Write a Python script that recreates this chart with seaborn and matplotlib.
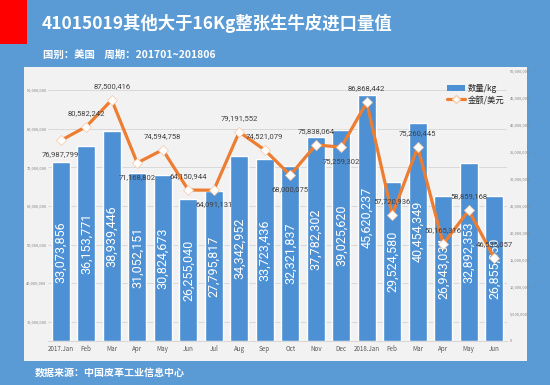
import pandas as pd
import seaborn as sns
import matplotlib.pyplot as plt
from matplotlib.patches import Rectangle, Patch
from matplotlib.lines import Line2D
from matplotlib.ticker import MultipleLocator, FuncFormatter

# data
periods = ['201701', '201702', '201703', '201704', '201705', '201706',
           '201707', '201708', '201709', '201710', '201711', '201712',
           '201801', '201802', '201803', '201804', '201805', '201806']
month_labels = ['2017.Jan', 'Feb', 'Mar', 'Apr', 'May', 'Jun', 'Jul', 'Aug', 'Sep',
                'Oct', 'Nov', 'Dec', '2018.Jan', 'Feb', 'Mar', 'Apr', 'May', 'Jun']
qty_kg = [33073856, 36153771, 38939446, 31052151, 30824673, 26255040,
          27795817, 34342952, 33723436, 32321837, 37782302, 39025620,
          45620237, 29524580, 40454349, 26943034, 32892353, 26855850]
amount_usd = [76987799, 80582242, 87500416, 71168802, 74594758, 64150944,
              64091131, 79191552, 74521079, 68000075, 75838064, 75259302,
              86868442, 57720936, 75260445, 50165316, 58859168, 46535057]
# months whose amount label sits under the point
label_below = ['201701', '201704', '201707', '201710', '201712']

BG = '#5B9BD5'
BAR = '#4E90D4'
ORANGE = '#ED7D31'
PANEL = '#F2F2F2'

df = pd.DataFrame({'period': periods, 'qty': qty_kg, 'amount': amount_usd})

sns.set_style('white')
plt.rcParams['font.family'] = ['Noto Sans CJK SC', 'DejaVu Sans']

fig = plt.figure(figsize=(5.5, 3.85), dpi=100)
fig.patch.set_facecolor(BG)

# red corner block and light panel, kept under the axes
fig.patches.append(Rectangle((0, 1 - 44 / 385), 27 / 550, 44 / 385, transform=fig.transFigure,
                             facecolor='#FF0000', edgecolor='none', zorder=-5))
fig.patches.append(Rectangle((24 / 550, 1 - 361 / 385), 503 / 550, 294 / 385,
                             transform=fig.transFigure, facecolor=PANEL, edgecolor='none',
                             zorder=-5))

fig.text(42 / 550, 1 - 23 / 385, '41015019其他大于16Kg整张生牛皮进口量值', color='white',
         fontsize=12.5, fontweight='bold', va='center', ha='left')
fig.text(43 / 550, 1 - 55 / 385, '国别：美国    周期：201701~201806', color='white',
         fontsize=7.5, fontweight='bold', va='center', ha='left')
fig.text(35 / 550, 1 - 373 / 385, '数据来源：中国皮革工业信息中心', color='white',
         fontsize=7.2, fontweight='bold', va='center', ha='left')

comma = FuncFormatter(lambda v, p: f'{v:,.0f}')

# base axes: amount scale on the left, grid lines
ax_amt = fig.add_axes([48 / 550, 1 - 341 / 385, 459 / 550, 270 / 385])
ax_amt.set_facecolor('none')
ax_amt.set_ylim(25e6, 95e6)
ax_amt.yaxis.set_major_locator(MultipleLocator(10e6))
ax_amt.yaxis.set_major_formatter(comma)
ax_amt.grid(axis='y', color='#D9D9D9', linewidth=0.7)
for s in ax_amt.spines.values():
    s.set_visible(False)
ax_amt.spines['bottom'].set_visible(True)
ax_amt.spines['bottom'].set_color('#D9D9D9')

# bars: quantity on the right axis
ax_qty = ax_amt.twinx()
sns.barplot(data=df, x='period', y='qty', color=BAR, saturation=1, width=0.72, ax=ax_qty)
ax_qty.set_ylim(0, 50e6)
ax_qty.yaxis.set_major_locator(MultipleLocator(5e6))
ax_qty.yaxis.set_major_formatter(comma)
ax_qty.set_ylabel('')
ax_qty.bar_label(ax_qty.containers[0], labels=[f'{v:,}' for v in qty_kg], label_type='center',
                 rotation=90, color='white', fontsize=9, family='Roboto')
for s in ax_qty.spines.values():
    s.set_visible(False)

# line: amount, drawn on top
ax_line = ax_amt.twinx()
sns.pointplot(data=df, x='period', y='amount', color=ORANGE, markers='D', errorbar=None,
              linewidth=2.3, markersize=5, ax=ax_line)
ax_line.set_ylim(25e6, 95e6)
ax_line.set_yticks([])
ax_line.set_ylabel('')
for s in ax_line.spines.values():
    s.set_visible(False)
ln = ax_line.lines[0]
ln.set_markerfacecolor('white')
ln.set_markeredgecolor('#F8CBAD')
ln.set_markeredgewidth(0.6)

for xp, v, per in zip(ln.get_xdata(), amount_usd, periods):
    dy = -10 if per in label_below else 10
    ax_line.annotate(f'{v:,}', (xp, v), xytext=(0, dy), textcoords='offset points',
                     ha='center', va='center', fontsize=5.5, color='#404040', family='Roboto')

# ticks
ax_amt.set_xticks(ax_amt.get_xticks(), labels=month_labels)
ax_amt.set_xlabel('')
ax_amt.tick_params(axis='x', length=0, labelsize=4.5, labelcolor='#595959', pad=3)
ax_amt.tick_params(axis='y', length=0, labelsize=2.8, labelcolor='#7F7F7F', pad=1)
ax_qty.tick_params(axis='y', length=0, labelsize=2.8, labelcolor='#7F7F7F', pad=2)

handles = [Patch(facecolor=BAR, edgecolor='none'),
           Line2D([], [], color=ORANGE, linewidth=2.3, marker='D', markersize=4,
                  markerfacecolor='white', markeredgecolor='#F8CBAD')]
ax_line.legend(handles, ['数量/kg', '金额/美元'], loc='upper right', bbox_to_anchor=(1.01, 0.98),
               frameon=False, fontsize=6, handlelength=2.2, handleheight=0.9,
               labelspacing=0.3, handletextpad=0.3)

fig.savefig('out.png', dpi=100, facecolor=BG)
